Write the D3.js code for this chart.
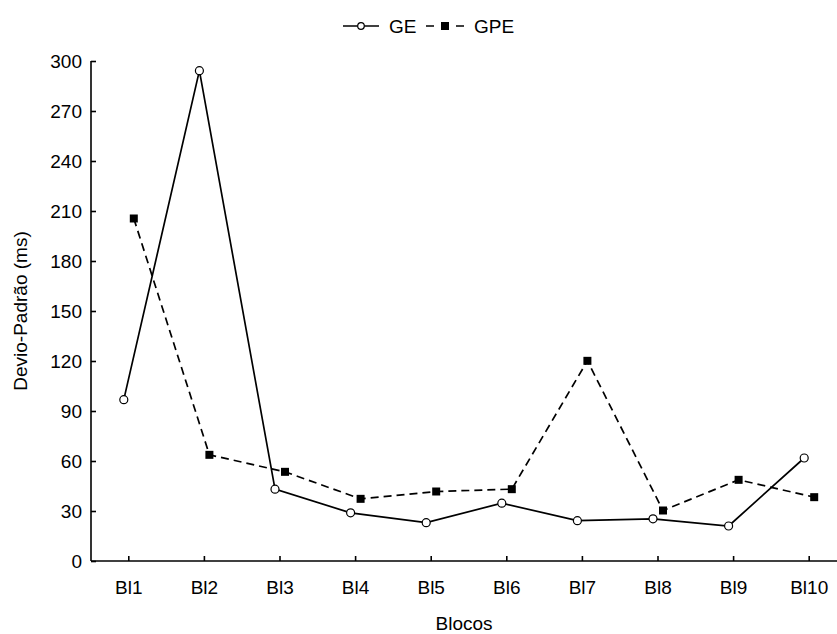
<!DOCTYPE html>
<html>
<head>
<meta charset="utf-8">
<script src="https://cdn.jsdelivr.net/npm/d3@7"></script>
<style>
  body { margin: 0; background: #fff; }
  svg { display: block; font-family: "Liberation Sans", Arial, sans-serif; }
</style>
</head>
<body>
<div id="chart"></div>
<script>
const blocks = ["Bl1", "Bl2", "Bl3", "Bl4", "Bl5", "Bl6", "Bl7", "Bl8", "Bl9", "Bl10"];
const geValues = [96.8, 294.2, 43.1, 28.9, 23.0, 34.7, 24.2, 25.3, 21.0, 61.8];
const gpeValues = [205.5, 63.7, 53.5, 37.3, 41.7, 43.1, 120.1, 30.3, 48.7, 38.3];
const yTicks = [0, 30, 60, 90, 120, 150, 180, 210, 240, 270, 300];

const width = 837;
const height = 634;
const plotLeft = 91, plotTop = 61, plotBottom = 561;

const svg = d3.select("#chart")
    .append("svg")
    .attr("width", width)
    .attr("height", height);

const x = d3.scaleBand()
    .domain(blocks)
    .range([plotLeft, plotLeft + 756]);

const y = d3.scaleLinear()
    .domain([0, 300])
    .range([plotBottom, plotTop]);

const off = 5; // GE drawn a bit left of the tick, GPE a bit right
const cx = (i, shift) => x(blocks[i]) + x.bandwidth() / 2 + shift;

// Y axis
const yAxis = svg.append("g")
    .attr("transform", `translate(${plotLeft},0)`)
    .call(d3.axisLeft(y).tickValues(yTicks).tickSize(-5).tickPadding(9));
yAxis.select(".domain").attr("d", `M0,${plotBottom}V${plotTop}`);

// X axis
const xAxis = svg.append("g")
    .attr("transform", `translate(0,${plotBottom})`)
    .call(d3.axisBottom(x).tickSize(-5).tickPadding(20));
xAxis.select(".domain").attr("d", `M${plotLeft},0H${plotLeft + 756}`);

svg.selectAll(".tick text").style("font-size", "19px").attr("fill", "#000");
svg.selectAll(".domain, .tick line").attr("stroke", "#000").attr("stroke-width", 1.6);

// axis titles
svg.append("text")
    .attr("text-anchor", "middle")
    .attr("x", (plotLeft + width) / 2)
    .attr("y", 630)
    .style("font-size", "19px")
    .text("Blocos");

svg.append("text")
    .attr("text-anchor", "middle")
    .attr("transform", "rotate(-90)")
    .attr("x", -(plotTop + plotBottom) / 2)
    .attr("y", 27)
    .style("font-size", "19px")
    .text("Devio-Padrão (ms)");

// lines
const geLine = d3.line()
    .x((d, i) => cx(i, -off))
    .y(d => y(d));

const gpeLine = d3.line()
    .x((d, i) => cx(i, off))
    .y(d => y(d));

svg.append("path")
    .datum(gpeValues)
    .attr("d", gpeLine)
    .attr("fill", "none")
    .attr("stroke", "#000")
    .attr("stroke-width", 1.7)
    .attr("stroke-dasharray", "8,5");

svg.append("path")
    .datum(geValues)
    .attr("d", geLine)
    .attr("fill", "none")
    .attr("stroke", "#000")
    .attr("stroke-width", 1.7);

// markers
svg.selectAll(".gpe")
    .data(gpeValues)
    .enter()
    .append("rect")
    .attr("class", "gpe")
    .attr("x", (d, i) => cx(i, off) - 4)
    .attr("y", d => y(d) - 4)
    .attr("width", 8)
    .attr("height", 8)
    .attr("fill", "#000");

svg.selectAll(".ge")
    .data(geValues)
    .enter()
    .append("circle")
    .attr("class", "ge")
    .attr("cx", (d, i) => cx(i, -off))
    .attr("cy", d => y(d))
    .attr("r", 4)
    .attr("fill", "#fff")
    .attr("stroke", "#000")
    .attr("stroke-width", 1.2);

// legend
const legend = svg.append("g").attr("transform", "translate(0,26)");

legend.append("line")
    .attr("x1", 343).attr("x2", 379)
    .attr("stroke", "#000").attr("stroke-width", 1.7);
legend.append("circle")
    .attr("cx", 361).attr("r", 3.3)
    .attr("fill", "#fff").attr("stroke", "#000").attr("stroke-width", 1.2);
legend.append("text")
    .attr("x", 389).attr("dy", "0.35em")
    .style("font-size", "19px")
    .text("GE");

legend.append("line")
    .attr("x1", 426).attr("x2", 464)
    .attr("stroke", "#000").attr("stroke-width", 1.7)
    .attr("stroke-dasharray", "8,7");
legend.append("rect")
    .attr("x", 441).attr("y", -4)
    .attr("width", 8).attr("height", 8)
    .attr("fill", "#000");
legend.append("text")
    .attr("x", 474).attr("dy", "0.35em")
    .style("font-size", "19px")
    .text("GPE");
</script>
</body>
</html>
